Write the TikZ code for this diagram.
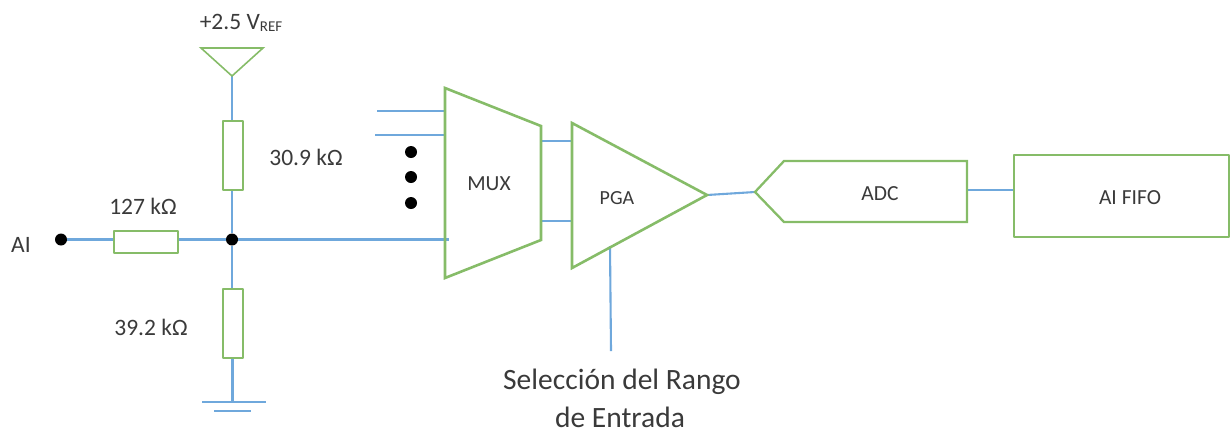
\documentclass[tikz,border=0pt]{standalone}
\usepackage{fontspec}
\setmainfont{Carlito}
\definecolor{grn}{HTML}{86BC68}
\definecolor{blu}{HTML}{6FA8DC}
\definecolor{txt}{HTML}{3A3A3A}
\tikzset{
  x=1pt,y=-1pt,
  comp/.style={draw=grn,line width=2.3pt,fill=white,rectangle,inner sep=0pt,line join=round},
  shp/.style={draw=grn,line width=2.3pt,line join=miter},
  wire/.style={draw=blu,line width=2.1pt},
  blob/.style={circle,fill=black,inner sep=0pt,minimum size=12pt},
  lab/.style={text=txt,font=\fontsize{23.5}{26}\selectfont,inner sep=0pt,anchor=center},
  blk/.style={text=txt,font=\fontsize{21.5}{24}\selectfont,inner sep=0pt,anchor=center},
  big/.style={text=txt,font=\fontsize{29.5}{32}\selectfont,inner sep=0pt,anchor=center},
  vres/.style={comp,minimum width=20pt,minimum height=69pt},
}
\begin{document}
\begin{tikzpicture}
\useasboundingbox (0,0) rectangle (1230,432);
% coordinates of the free ends and shape corners
\coordinate (vtip) at (232,76);
\coordinate (vl) at (201,48);
\coordinate (vr) at (263,48);
\coordinate (gnd) at (232.5,402);
\coordinate (gl) at (202,402);
\coordinate (gr) at (266,402);
\coordinate (g2l) at (214,411);
\coordinate (g2r) at (251,411);
\coordinate (m1) at (445,88);
\coordinate (m2) at (541,126);
\coordinate (m3) at (541,240);
\coordinate (m4) at (445,278);
\coordinate (p1) at (572,123);
\coordinate (p2) at (707,195);
\coordinate (p3) at (572,268);
\coordinate (a0) at (755,192);
\coordinate (a1) at (784,161);
\coordinate (a2) at (967,161);
\coordinate (a3) at (967,222);
\coordinate (a4) at (784,222);
\coordinate (in1s) at (377,111);
\coordinate (in1e) at (445,111);
\coordinate (in2s) at (375,135);
\coordinate (in2e) at (445,135);
\coordinate (in3e) at (449,239.5);
\coordinate (o1s) at (541,141);
\coordinate (o1e) at (571,141);
\coordinate (o2s) at (541,221);
\coordinate (o2e) at (571,221);
\coordinate (sel) at (610,246);
\coordinate (sele) at (611,351);
\coordinate (af) at (967,190);
\coordinate (fa) at (1014,190);
% wires
\node[blob] (ai) at (61,239.5) {};
\node[blob] (j) at (232,239.5) {};
\node[vres] (r1) at (233,155.5) {};
\node[comp,minimum width=64pt,minimum height=22pt] (r2) at (146,242) {};
\node[vres] (r3) at (233,323.5) {};
\draw[wire] (vtip) -- (r1.north -| vtip);
\draw[wire] (r1.south -| j) -- (j);
\draw[wire] (j) -- (r3.north -| j);
\draw[wire] (r3.south -| gnd) -- (gnd);
\draw[wire] (gl) -- (gr);
\draw[wire] (g2l) -- (g2r);
\draw[wire] (ai) -- (r2.west |- ai);
\draw[wire] (r2.east |- j) -- (j);
\draw[wire] (j) -- (in3e);
\draw[wire] (in1s) -- (in1e);
\draw[wire] (in2s) -- (in2e);
\draw[wire] (o1s) -- (o1e);
\draw[wire] (o2s) -- (o2e);
\draw[wire] (p2) -- (a0);
\draw[wire] (sel) -- (sele);
\draw[wire] (af) -- (fa);
% shapes
\draw[shp,line width=1.6pt] (vl) -- (vr) -- (vtip) -- cycle;
\draw[shp,line width=2.6pt] (m1) -- (m2) -- (m3) -- (m4) -- cycle;
\draw[shp,line width=2.6pt] (p1) -- (p2) -- (p3) -- cycle;
\draw[shp] (a0) -- (a1) -- (a2) -- (a3) -- (a4) -- cycle;
\node[comp,minimum width=215pt,minimum height=82pt] (fifo) at (1121.5,196) {};
% dots
\node[blob] (d1) at (411,152) {};
\node[blob] (d2) at (411,177) {};
\node[blob] (d3) at (411,203) {};
% labels
\node[lab] (tai) at (21,245) {AI};
\node[lab] (t127) at (143,206) {127 kΩ};
\node[lab] (t309) at (306,157) {30.9 kΩ};
\node[lab] (t392) at (151,327) {39.2 kΩ};
\node[lab] (tv) at (241,23) {+2.5 V\raisebox{-1.5pt}{\fontsize{15}{16}\selectfont REF}};
\node[blk] (tm) at (489,184) {MUX};
\node[blk,font=\fontsize{20}{22}\selectfont] (tp) at (617,198) {PGA};
\node[blk] (ta) at (880,194) {ADC};
\node[blk] (tf) at (1130,198) {AI FIFO};
\node[big] (ts1) at (622,382) {Selección del Rango};
\node[big] (ts2) at (620,417) {de Entrada};
\end{tikzpicture}
\end{document}
